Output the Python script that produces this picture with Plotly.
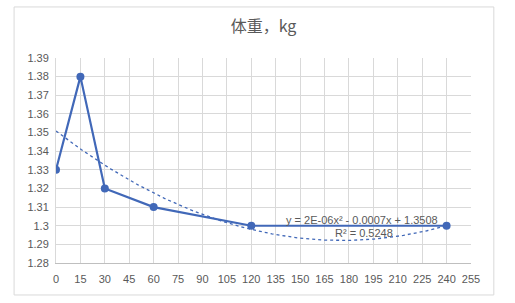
import numpy as np
import plotly.graph_objects as go

# Body weight over time
days = [0, 15, 30, 60, 120, 240]
weight = [1.33, 1.38, 1.32, 1.31, 1.30, 1.30]
x_ticks = list(range(0, 256, 15))
y_ticks = [1.28, 1.29, 1.30, 1.31, 1.32, 1.33, 1.34, 1.35, 1.36, 1.37, 1.38, 1.39]
y_tick_text = ["1.28", "1.29", "1.3", "1.31", "1.32", "1.33", "1.34", "1.35",
               "1.36", "1.37", "1.38", "1.39"]
title_text = "体重，kg"
eq_text = "y = 2E-06x² - 0.0007x + 1.3508"
r2_text = "R² = 0.5248"

line_color = "#4168B8"
text_color = "#595959"
grid_color = "#D9D9D9"

# Second-order polynomial trendline fitted to the series
coef = np.polyfit(days, weight, 2)
tx = np.linspace(min(days), max(days), 200)
ty = np.polyval(coef, tx)

fig = go.Figure()
fig.add_trace(go.Scatter(
    x=tx, y=ty, mode="lines",
    line=dict(color=line_color, width=1.3, dash="dot"),
    hoverinfo="skip", showlegend=False,
))
fig.add_trace(go.Scatter(
    x=days, y=weight, mode="lines+markers",
    line=dict(color=line_color, width=2.2),
    marker=dict(color=line_color, size=8),
    showlegend=False,
))

# Trendline equation label
label_font = dict(size=11, color=text_color, family="Liberation Sans")
fig.add_annotation(x=188, y=1.3031, xref="x", yref="y", text=eq_text,
                   showarrow=False, font=label_font,
                   xanchor="center", yanchor="middle")
fig.add_annotation(x=189, y=1.2961, xref="x", yref="y", text=r2_text,
                   showarrow=False, font=label_font,
                   xanchor="center", yanchor="middle")

# Chart area border
fig.add_shape(type="rect", xref="paper", yref="paper",
              x0=-0.101, x1=1.055, y0=-0.156, y1=1.249,
              line=dict(color="#D9D9D9", width=1), fillcolor="rgba(0,0,0,0)",
              layer="below")

tick_font = dict(size=11, color=text_color, family="Liberation Sans")
fig.update_layout(
    width=515, height=303,
    margin=dict(l=56, r=44, t=58, b=40),
    paper_bgcolor="white", plot_bgcolor="white",
    title=dict(text=title_text, x=0.5, xanchor="center", y=0.912, yanchor="middle",
               xref="paper",
               font=dict(size=16, color=text_color,
                         family="Noto Sans CJK SC")),
    xaxis=dict(range=[0, 255], tickvals=x_ticks, showgrid=True,
               gridcolor=grid_color, gridwidth=1, zeroline=False,
               showline=True, linecolor="#BFBFBF", mirror=False,
               ticks="", ticklen=0, ticklabelstandoff=6,
               tickfont=tick_font),
    yaxis=dict(range=[1.28, 1.39], tickvals=y_ticks, ticktext=y_tick_text,
               showgrid=True, gridcolor=grid_color, gridwidth=1,
               zeroline=False, showline=True, linecolor="#D9D9D9",
               ticks="", ticklen=0, ticklabelstandoff=4,
               tickfont=tick_font),
)

fig.write_html("out.html")
